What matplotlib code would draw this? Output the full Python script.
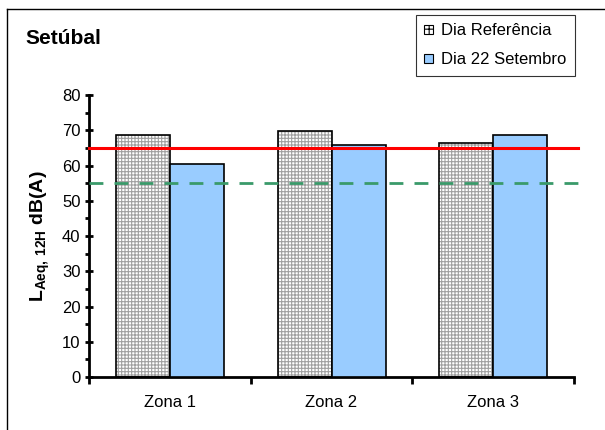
import numpy as np
import matplotlib.pyplot as plt
from matplotlib.patches import Patch
from matplotlib.lines import Line2D

plt.rcParams['font.family'] = ['Liberation Sans', 'DejaVu Sans']
plt.rcParams['mathtext.fontset'] = 'custom'
plt.rcParams['mathtext.rm'] = 'Liberation Sans:bold'
plt.rcParams['mathtext.bf'] = 'Liberation Sans:bold'
plt.rcParams['mathtext.default'] = 'bf'
plt.rcParams['hatch.linewidth'] = 0.8

# data
zonas = ["Zona 1", "Zona 2", "Zona 3"]
dia_referencia = [68.6, 69.9, 66.3]
dia_22_setembro = [60.3, 65.8, 68.6]
limite_65 = 65
limite_55 = 55

fig = plt.figure(figsize=(6.05, 4.30), dpi=100)
ax = fig.add_axes([0.147, 0.123, 0.802, 0.656])

x = np.arange(len(zonas))
w = 0.334

# hatched reference bars: grey grid fill, then black outline on top
ax.bar(x - w/2, dia_referencia, w, color='white', edgecolor='#a0a0a0',
       hatch='+++++', linewidth=0, zorder=2)
ax.bar(x - w/2, dia_referencia, w, fill=False, edgecolor='black',
       linewidth=1.2, zorder=3)
ax.bar(x + w/2, dia_22_setembro, w, color='#99ccff', edgecolor='black',
       linewidth=1.2, zorder=3)

ax.axhline(limite_65, xmin=0, xmax=1.008, color='#ff0000', lw=2.2,
           zorder=4, clip_on=False)
ax.axhline(limite_55, xmin=0, xmax=1.008, color='#3a9a6a', lw=2,
           dashes=(5, 4), zorder=4, clip_on=False)

ax.set_xlim(-0.5, 2.5)
ax.set_ylim(0, 80)
ax.set_yticks(np.arange(0, 81, 10))
ax.set_yticks(np.arange(5, 80, 10), minor=True)
ax.set_xticks(x)
ax.set_xticklabels(zonas, fontsize=12)
ax.set_xticks([-0.5, 0.5, 1.5, 2.5], minor=True)
ax.tick_params(axis='x', which='major', length=0, pad=13)
ax.tick_params(axis='x', which='minor', length=5, width=2, direction='out')
ax.tick_params(axis='y', which='major', length=6, width=2, direction='inout',
               labelsize=12, pad=3)
ax.tick_params(axis='y', which='minor', length=3, width=2, direction='out')

for s in ['top', 'right']:
    ax.spines[s].set_visible(False)
ax.spines['left'].set_linewidth(2)
ax.spines['bottom'].set_linewidth(2)

ax.set_ylabel(r"L$_{Aeq,\,12H}$ dB(A)", fontsize=14, fontweight='bold',
              labelpad=7)

fig.text(25/605, 1 - 39/430, "Setúbal", fontsize=15, fontweight='bold',
         va='center', ha='left')

handles = [Patch(facecolor='white', edgecolor='black', hatch='++', lw=0.8),
           Patch(facecolor='#99ccff', edgecolor='black', lw=0.8)]
leg = fig.legend(handles, ["Dia Referência", "Dia 22 Setembro"],
                 loc='upper left', bbox_to_anchor=(416/605, 1 - 15/430),
                 fontsize=12, frameon=True, fancybox=False, edgecolor='black',
                 handlelength=0.5, handleheight=0.5, handletextpad=0.5,
                 labelspacing=0.85, borderpad=0.5, borderaxespad=0)
leg.get_frame().set_linewidth(0.8)

# outer frame (left and top edges)
fig.add_artist(Line2D([7/605, 7/605], [0, 1 - 9/430], color='black', lw=1))
fig.add_artist(Line2D([7/605, 1], [1 - 9/430, 1 - 9/430], color='black', lw=1))

fig.savefig("out.png", dpi=100)
